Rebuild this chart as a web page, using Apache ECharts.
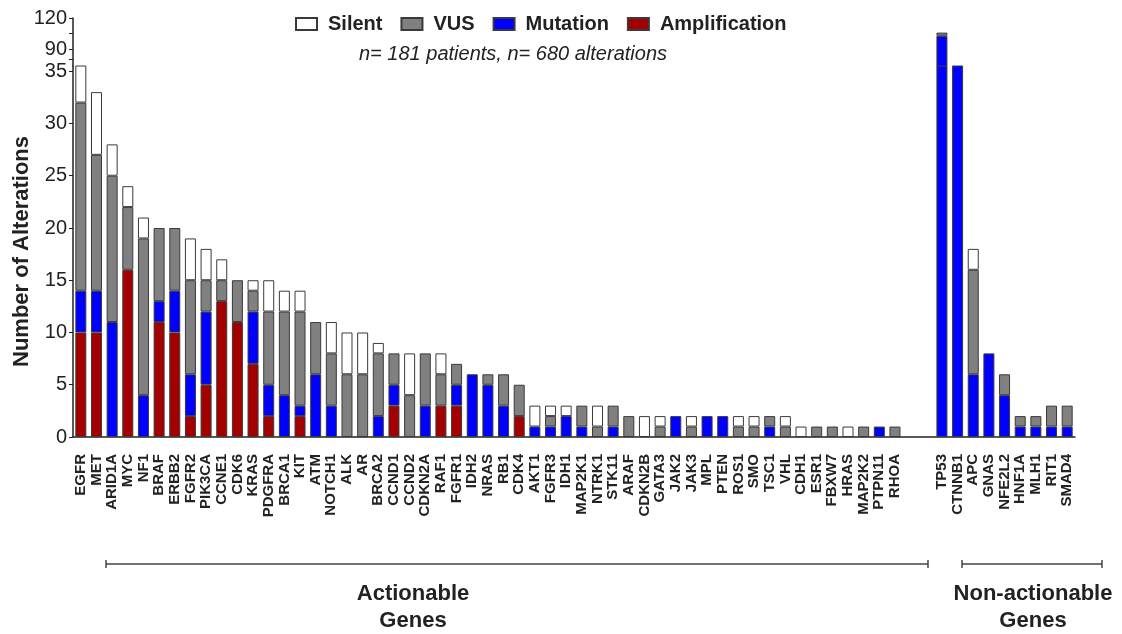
<!DOCTYPE html>
<html>
<head>
<meta charset="utf-8">
<script src="https://cdn.jsdelivr.net/npm/echarts@6/dist/echarts.min.js"></script>
<style>
html,body{margin:0;padding:0;background:#fff;}
#chart{width:1122px;height:634px;}
</style>
</head>
<body>
<div id="chart"></div>
<script>
const genes = ['EGFR','MET','ARID1A','MYC','NF1','BRAF','ERBB2','FGFR2','PIK3CA','CCNE1','CDK6','KRAS','PDGFRA','BRCA1','KIT','ATM','NOTCH1','ALK','AR','BRCA2','CCND1','CCND2','CDKN2A','RAF1','FGFR1','IDH2','NRAS','RB1','CDK4','AKT1','FGFR3','IDH1','MAP2K1','NTRK1','STK11','ARAF','CDKN2B','GATA3','JAK2','JAK3','MPL','PTEN','ROS1','SMO','TSC1','VHL','CDH1','ESR1','FBXW7','HRAS','MAP2K2','PTPN11','RHOA',' ','  ','TP53','CTNNB1','APC','GNAS','NFE2L2','HNF1A','MLH1','RIT1','SMAD4'];

const amplification = [10,10,0,16,0,11,10,2,5,13, 11,7,2,0,2,0,0,0,0,0, 3,0,0,3,3,0,0,0,2, 0,0,0,0,0,0,0,0,0, 0,0,0,0,0,0,0,0, 0,0,0,0,0,0,0, 0,0, 0,0,0,0,0,0,0,0,0];
const mutation      = [4,4,11,0,4,2,4,4,7,0, 0,5,3,4,1,6,3,0,0,2, 2,0,3,0,2,6,5,3,0, 1,1,2,1,0,1,0,0,0, 2,0,2,2,0,0,1,0, 0,0,0,0,0,1,0, 0,0, 103,63,6,8,4,1,1,1,1];
const vus           = [18,13,14,6,15,7,6,9,3,2, 4,2,7,8,9,5,5,6,6,6, 3,4,5,3,2,0,1,3,3, 0,1,0,2,1,2,2,0,1, 0,1,0,0,1,1,1,1, 0,1,1,0,1,0,1, 0,0, 3,0,10,0,2,1,1,2,2];
const silent        = [4,6,3,2,2,0,0,4,3,2, 0,1,3,2,2,0,3,4,4,1, 0,4,0,2,0,0,0,0,0, 2,1,1,0,2,0,0,2,1, 0,1,0,0,1,1,0,1, 1,0,0,1,0,0,0, 0,0, 0,0,2,0,0,0,0,0,0];

const lowerTicks = [0,5,10,15,20,25,30,35];
const upperLabels = [90,120];
const upperTicks = [80,90,105,120];
const legendNames = ['Silent','VUS','Mutation','Amplification'];

const segs = [
  ['Amplification', amplification, '#a50000'],
  ['Mutation', mutation, '#0000ff'],
  ['VUS', vus, '#808080'],
  ['Silent', silent, '#ffffff']
];

const series = [];
[0,1].forEach(g => {
  segs.forEach(([name, arr, color]) => {
    series.push({
      name, type:'bar', stack:'s'+g, xAxisIndex:g, yAxisIndex:g,
      barWidth: 11, clip: true,
      data: arr.map(v => v === 0 ? null : v),
      itemStyle: {color, borderColor:'#3a3a3a', borderWidth:1},
      emphasis: {disabled:true}
    });
  });
});

const FONT = '"Liberation Sans", Arial, sans-serif';
const chart = echarts.init(document.getElementById('chart'), null, {renderer:'canvas'});
chart.setOption({
  animation:false,
  backgroundColor:'#fff',
  textStyle:{fontFamily:FONT},
  title:{
    text:'n= 181 patients, n= 680 alterations',
    left:508, top:39, textAlign:'center',
    textStyle:{fontSize:20, fontStyle:'italic', fontWeight:'normal', color:'#222', fontFamily:FONT}
  },
  legend:{
    data:legendNames, left:290, top:9, itemWidth:21, itemHeight:12, itemGap:18,
    icon:'rect',
    textStyle:{fontSize:20, fontWeight:'bold', color:'#222', fontFamily:FONT, padding:[0,0,0,6]}
  },
  grid:[
    {left:73, right:47, top:66, bottom:197, outerBoundsMode:'none'},
    {left:73, right:47, top:18, height:48, outerBoundsMode:'none'}
  ],
  xAxis:[
    {type:'category', gridIndex:0, data:genes,
     axisLine:{lineStyle:{color:'#222', width:1.5}},
     axisTick:{alignWithLabel:true, length:7, lineStyle:{color:'#555'}},
     axisLabel:{interval:0, rotate:90, margin:17, fontSize:15, fontWeight:'bold', color:'#222', fontFamily:FONT}},
    {type:'category', gridIndex:1, data:genes, show:false}
  ],
  yAxis:[
    {type:'value', gridIndex:0, min:0, max:35.5, interval:5,
     splitLine:{show:false},
     axisLine:{show:true, lineStyle:{color:'#222', width:1.5}},
     axisTick:{show:true, length:4, customValues:lowerTicks, lineStyle:{color:'#222'}},
     axisLabel:{customValues:lowerTicks, fontSize:20, color:'#222', margin:6, fontFamily:FONT},
     name:'Number of Alterations', nameLocation:'middle', nameGap:40,
     nameTextStyle:{fontSize:22, fontWeight:'bold', color:'#222', fontFamily:FONT}},
    {type:'value', gridIndex:1, min:74, max:120,
     splitLine:{show:false},
     axisLine:{show:true, lineStyle:{color:'#222', width:1.5}},
     axisTick:{show:true, length:4, customValues:upperTicks, lineStyle:{color:'#222'}},
     axisLabel:{customValues:upperLabels, fontSize:20, color:'#222', margin:6, fontFamily:FONT}}
  ],
  series,
  graphic:[
    {type:'line', shape:{x1:106,y1:564,x2:928,y2:564}, style:{stroke:'#444', lineWidth:1.5}},
    {type:'line', shape:{x1:106,y1:560,x2:106,y2:568}, style:{stroke:'#444', lineWidth:1.5}},
    {type:'line', shape:{x1:928,y1:560,x2:928,y2:568}, style:{stroke:'#444', lineWidth:1.5}},
    {type:'line', shape:{x1:962,y1:564,x2:1102,y2:564}, style:{stroke:'#444', lineWidth:1.5}},
    {type:'line', shape:{x1:962,y1:560,x2:962,y2:568}, style:{stroke:'#444', lineWidth:1.5}},
    {type:'line', shape:{x1:1102,y1:560,x2:1102,y2:568}, style:{stroke:'#444', lineWidth:1.5}},
    {type:'text', x:413, y:607, style:{text:'Actionable\nGenes', font:'bold 22px '+FONT, fill:'#222', textAlign:'center', textVerticalAlign:'middle', lineHeight:27}},
    {type:'text', x:1033, y:607, style:{text:'Non-actionable\nGenes', font:'bold 22px '+FONT, fill:'#222', textAlign:'center', textVerticalAlign:'middle', lineHeight:27}}
  ]
});
</script>
</body>
</html>
